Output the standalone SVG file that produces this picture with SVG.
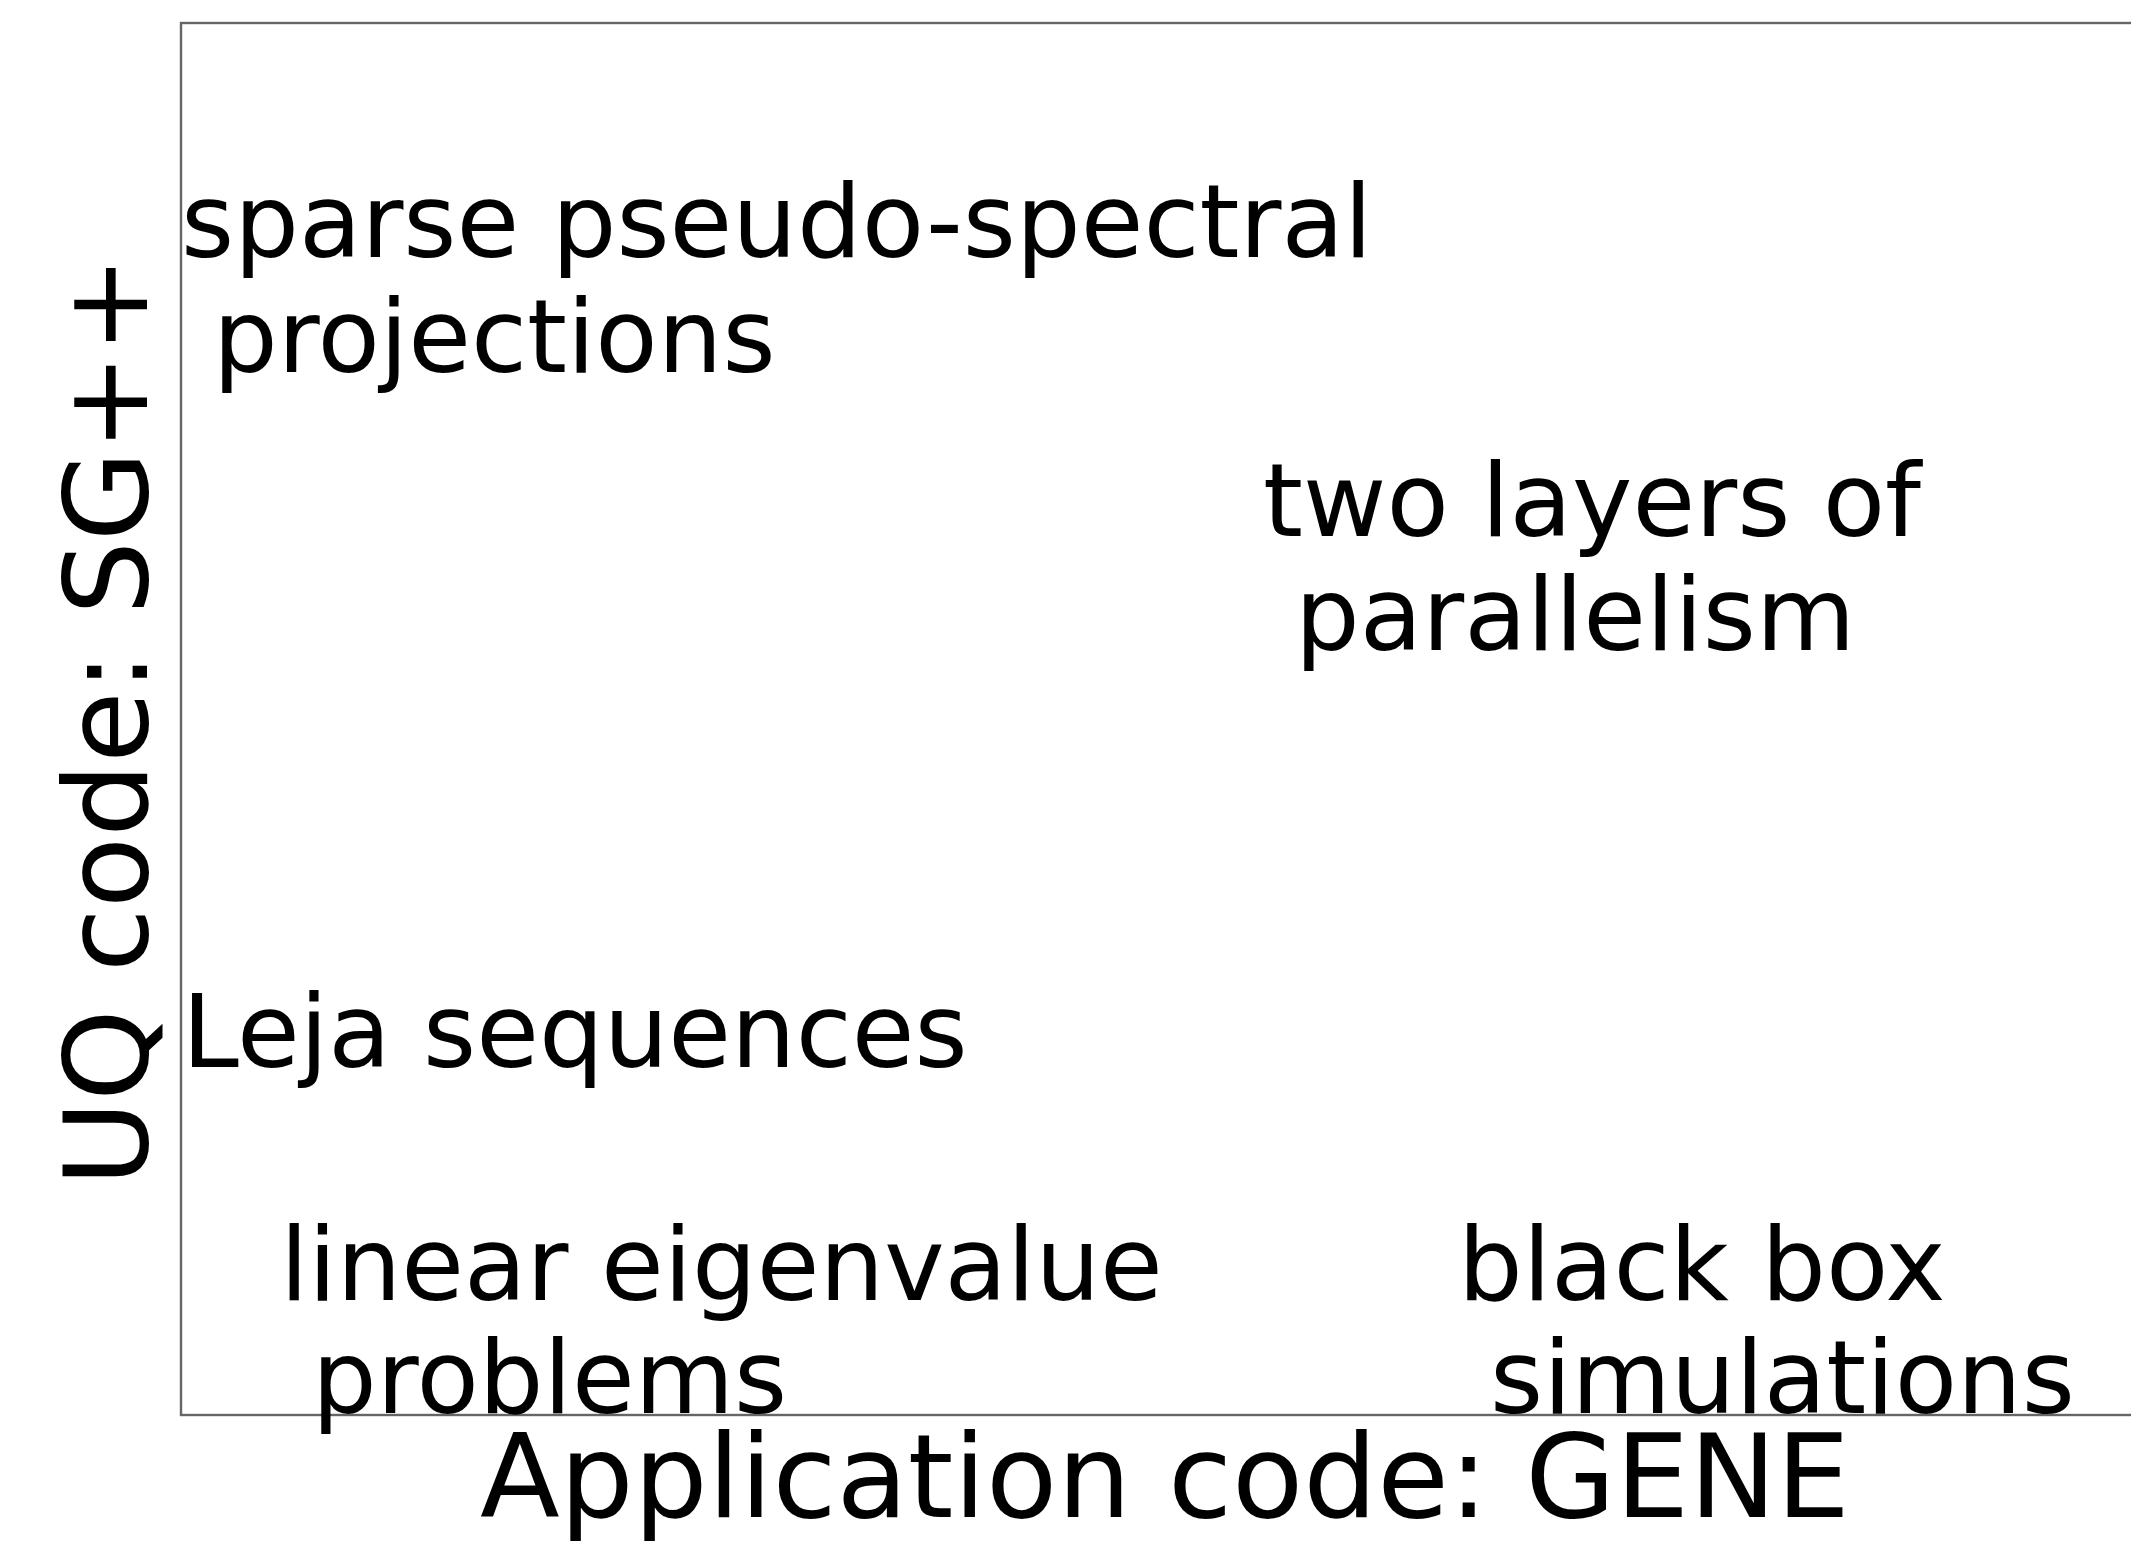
<svg xmlns="http://www.w3.org/2000/svg" width="2131" height="1551" viewBox="0 0 2131 1551">
  <style>
    .lbl { font-family: "DejaVu Sans", "Liberation Sans", sans-serif; font-size: 102px; fill: #000; }
    .axl { font-family: "DejaVu Sans", "Liberation Sans", sans-serif; font-size: 116.5px; fill: #000; }
    .spine { fill: none; stroke: #666; stroke-width: 2.4; }
  </style>
  <rect width="2131" height="1551" fill="#fff"/>
  <g id="axes">
    <rect class="spine" x="181" y="23" width="2000" height="1392"/>
  </g>
  <g id="node-sparse">
    <text class="lbl" x="181" y="257">sparse pseudo-spectral</text>
    <text class="lbl" x="213" y="372">projections</text>
  </g>
  <g id="node-parallelism">
    <text class="lbl" x="1263" y="536">two layers of</text>
    <text class="lbl" x="1295" y="650">parallelism</text>
  </g>
  <g id="node-leja">
    <text class="lbl" x="182" y="1067">Leja sequences</text>
  </g>
  <g id="node-eigen">
    <text class="lbl" x="280" y="1300">linear eigenvalue</text>
    <text class="lbl" x="312" y="1413">problems</text>
  </g>
  <g id="node-blackbox">
    <text class="lbl" x="1458" y="1300">black box</text>
    <text class="lbl" x="1490" y="1413">simulations</text>
  </g>
  <g id="xlabel">
    <text class="axl" x="1165" y="1517" text-anchor="middle">Application code: GENE</text>
  </g>
  <g id="ylabel">
    <text class="axl" transform="translate(147,721) rotate(-90)" text-anchor="middle">UQ code: SG++</text>
  </g>
</svg>
